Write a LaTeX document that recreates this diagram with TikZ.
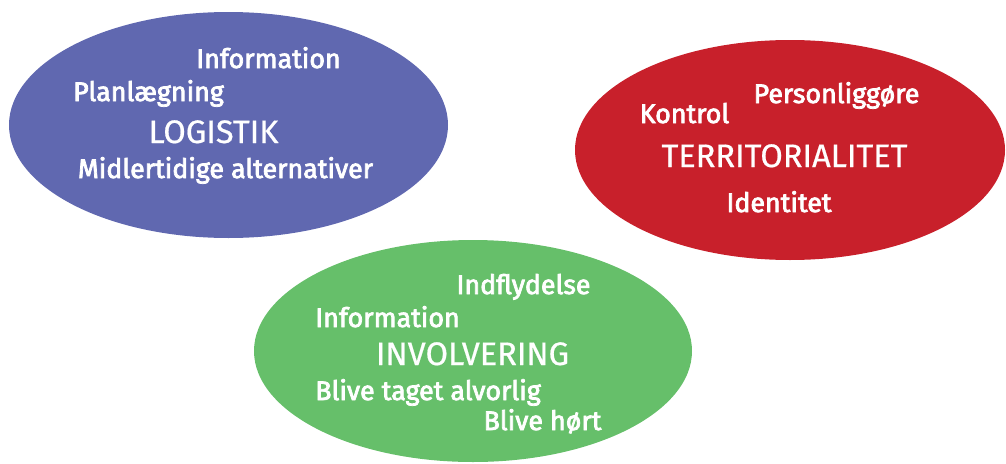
\documentclass[tikz,border=0pt]{standalone}
\usepackage{fontspec}
\setmainfont{Fira Sans}
\newfontfamily\itemfont[FakeBold=2.8]{Fira Sans}
\newfontfamily\titlefont[FakeBold=0.6]{Fira Sans}
\definecolor{eblue}{HTML}{6068B0}
\definecolor{ered}{HTML}{C8202B}
\definecolor{egreen}{HTML}{66BF6A}
\begin{document}
\begin{tikzpicture}[x=1pt,y=-1pt,
  item/.style={text=white,anchor=base,inner sep=0pt,font=\itemfont\fontsize{26.8}{30}\selectfont},
  title/.style={text=white,anchor=base,inner sep=0pt,font=\titlefont\fontsize{32.5}{36}\selectfont}]
\useasboundingbox (0,0) rectangle (1006,463);
\fill[eblue] (228.5,125) ellipse [x radius=219.5, y radius=113];
\fill[ered] (790,150) ellipse [x radius=215, y radius=110];
\fill[egreen] (473,351) ellipse [x radius=219, y radius=111];
\node[item] (b1) at (268.5,68) {Information};
\node[item] (b2) at (148.5,101) {Planlægning};
\node[title] (b0) at (213.5,143) {LOGISTIK};
\node[item] (b3) at (225.5,178) {Midlertidige alternativer};
\node[item] (r1) at (836.5,103) {Personliggøre};
\node[item] (r2) at (684.5,123) {Kontrol};
\node[title] (r0) at (784.5,167) {TERRITORIALITET};
\node[item] (r3) at (779,212) {Identitet};
\node[item] (g1) at (523.5,294) {Indflydelse};
\node[item] (g2) at (387.5,327) {Information};
\node[title] (g0) at (472.5,365) {INVOLVERING};
\node[item] (g3) at (428,400) {Blive taget alvorlig};
\node[item] (g4) at (542.5,430) {Blive hørt};
\end{tikzpicture}
\end{document}
